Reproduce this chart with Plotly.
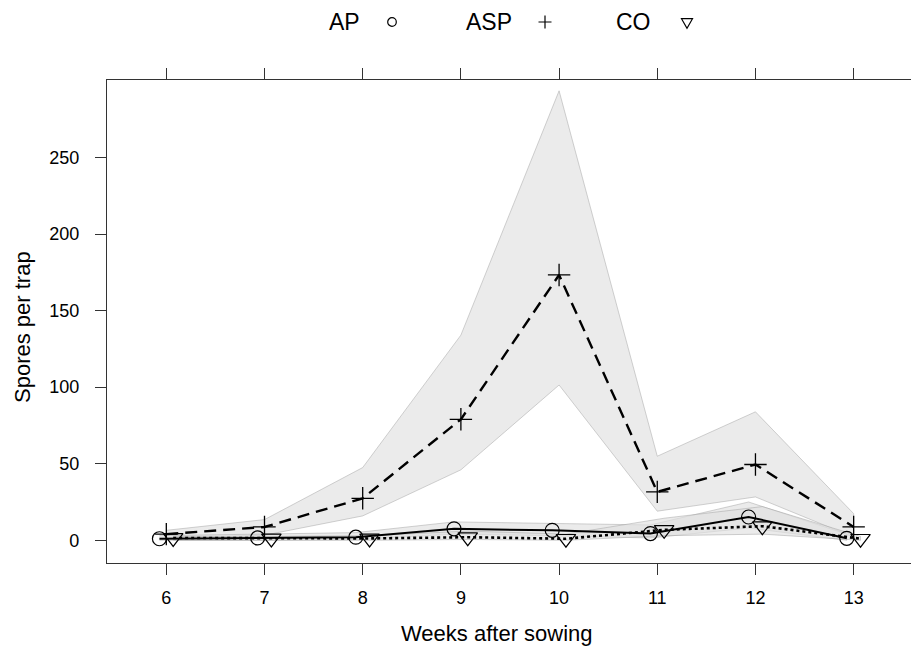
import plotly.graph_objects as go

weeks = [6, 7, 8, 9, 10, 11, 12, 13]
tick_labels = ["6", "7", "8", "9", "10", "11", "12", "13"]

asp_mean = [4, 8.7, 27.4, 79, 173.3, 31.6, 49.5, 8.7]
asp_low = [1, 3.3, 15.9, 46, 101.4, 19, 28.3, 2]
asp_high = [6.5, 13.5, 47.5, 134, 293.6, 54.9, 83.9, 17.4]

ap_mean = [1, 1.5, 2, 7.5, 6.5, 4.4, 15.2, 1.3]
ap_low = [0, 0, 0.5, 4, 3, 1.5, 8, 0]
ap_high = [3, 4, 5, 12, 11, 10, 25, 4]

co_mean = [1.5, 1.2, 1.2, 2, 1, 6.8, 9.2, 1]
co_low = [0, 0, 0, 0.5, 0, 3, 4, 0]
co_high = [2.5, 2.5, 3, 6, 4, 14.4, 22, 2.5]

dodge = 0.07
x_ap = [w - dodge for w in weeks]
x_asp = list(weeks)
x_co = [w + dodge for w in weeks]

BAND_FILL = "rgba(225,225,225,0.65)"
BAND_LINE = "rgba(160,160,160,0.8)"

fig = go.Figure()


def add_band(xs, low, high):
    fig.add_trace(go.Scatter(x=xs + xs[::-1], y=high + low[::-1], mode="lines",
                             fill="toself", fillcolor=BAND_FILL,
                             line=dict(color=BAND_LINE, width=0.6),
                             hoverinfo="skip", showlegend=False))


add_band(x_asp, asp_low, asp_high)
add_band(x_ap, ap_low, ap_high)
add_band(x_co, co_low, co_high)

fig.add_trace(go.Scatter(x=x_ap, y=ap_mean, mode="lines+markers", name="AP",
                         line=dict(color="black", width=2),
                         marker=dict(symbol="circle-open", size=14, color="black",
                                     line=dict(width=1.2, color="black")),
                         showlegend=False))
fig.add_trace(go.Scatter(x=x_asp, y=asp_mean, mode="lines+markers", name="ASP",
                         line=dict(color="black", width=2.4, dash="12px,7px"),
                         marker=dict(symbol="cross-thin-open", size=16, color="black",
                                     line=dict(width=1.3, color="black")),
                         showlegend=False))
fig.add_trace(go.Scatter(x=x_co, y=co_mean, mode="lines+markers", name="CO",
                         line=dict(color="black", width=2.6, dash="3px,3px"),
                         marker=dict(symbol="triangle-down-open", size=17, color="black",
                                     line=dict(width=1.2, color="black")),
                         showlegend=False))

W, H = 911, 646
L, R, T, B = 107, 0, 80, 83
pw = W - L - R
ph = H - T - B


def px_x(p):
    return (p - L) / pw


def px_y(p):
    return (H - B - p) / ph


# legend (text followed by symbol key)
legend_names = ["AP", "ASP", "CO"]
legend_text_x = [344, 489, 633]
legend_sym_x = [392, 545, 687]
legend_y = 22
for name, px in zip(legend_names, legend_text_x):
    fig.add_annotation(x=px_x(px), y=px_y(legend_y), xref="paper", yref="paper",
                       text=name, showarrow=False, xanchor="center", yanchor="middle",
                       font=dict(size=23, color="black"))

key_line = dict(color="black", width=1.2)
fig.add_shape(type="circle", xref="paper", yref="paper", xsizemode="pixel", ysizemode="pixel",
              xanchor=px_x(legend_sym_x[0]), yanchor=px_y(legend_y),
              x0=-4.3, x1=4.3, y0=-4.3, y1=4.3, line=key_line)
fig.add_shape(type="path", xref="paper", yref="paper", xsizemode="pixel", ysizemode="pixel",
              xanchor=px_x(legend_sym_x[1]), yanchor=px_y(legend_y),
              path="M-6.5,0 L6.5,0 M0,-6.5 L0,6.5", line=key_line)
fig.add_shape(type="path", xref="paper", yref="paper", xsizemode="pixel", ysizemode="pixel",
              xanchor=px_x(legend_sym_x[2]), yanchor=px_y(legend_y),
              path="M-5.5,3.3 L5.5,3.3 L0,-6.2 Z", line=key_line)

fig.add_annotation(x=px_x(497), y=px_y(633), xref="paper", yref="paper",
                   text="Weeks after sowing", showarrow=False, xanchor="center", yanchor="middle",
                   font=dict(size=22, color="black"))
fig.add_annotation(x=px_x(22), y=px_y(327), xref="paper", yref="paper",
                   text="Spores per trap", showarrow=False, textangle=-90,
                   xanchor="center", yanchor="middle",
                   font=dict(size=22, color="black"))

AX = "#333333"
fig.update_layout(
    width=W, height=H,
    margin=dict(l=L, r=R, t=T, b=B, pad=0),
    paper_bgcolor="white", plot_bgcolor="white",
    font=dict(family="Liberation Sans, Arial, sans-serif", size=18, color="black"),
    xaxis=dict(range=[5.396, 13.584], tickvals=weeks, ticktext=tick_labels,
               showgrid=False, zeroline=False, showline=True, linecolor=AX, linewidth=1.2,
               mirror="ticks", ticks="outside", ticklen=11, tickwidth=1.2, tickcolor=AX,
               ticklabelstandoff=7, tickfont=dict(size=18)),
    yaxis=dict(range=[-14.85, 300.65], tickvals=[0, 50, 100, 150, 200, 250],
               showgrid=False, zeroline=False, showline=True, linecolor=AX, linewidth=1.2,
               mirror=False, ticks="outside", ticklen=11, tickwidth=1.2, tickcolor=AX,
               ticklabelstandoff=12, tickfont=dict(size=18)),
)

fig.write_html("out.html")
